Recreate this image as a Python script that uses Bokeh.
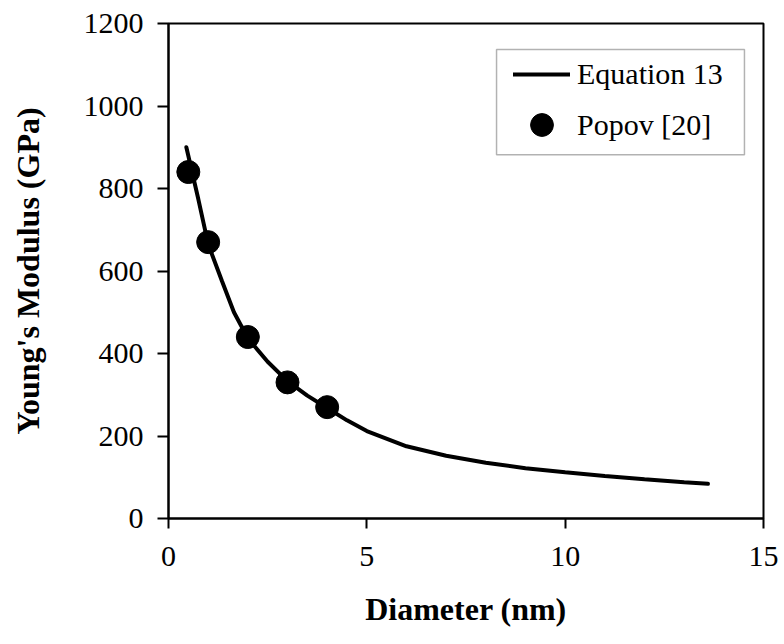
from bokeh.plotting import figure
from bokeh.models import Range1d, FixedTicker, Legend, LegendItem, BoxAnnotation
from bokeh.embed import file_html
from bokeh.resources import INLINE

# Equation 13 curve
eq_d = [0.45, 0.75, 1.0, 1.35, 1.65, 2.0, 2.5, 3.0, 3.5, 4.0, 4.5, 5.0, 6.0, 7.0,
        8.0, 9.0, 10.0, 11.0, 12.0, 13.0, 13.6]
eq_E = [900, 775, 665, 575, 500, 437, 380, 333, 298, 268, 238, 212, 175, 152,
        135, 122, 112, 103, 95, 88, 84]

# Popov [20] points
popov_d = [0.5, 1.0, 2.0, 3.0, 4.0]
popov_E = [840, 670, 440, 330, 270]

x_ticks = [0, 5, 10, 15]
y_ticks = [0, 200, 400, 600, 800, 1000, 1200]

FONT = "Liberation Serif"

p = figure(width=784, height=644, output_backend="svg", toolbar_location=None,
           x_range=Range1d(0, 15), y_range=Range1d(0, 1200),
           min_border_left=168, min_border_right=21, min_border_top=23,
           min_border_bottom=126)
p.background_fill_color = "white"
p.border_fill_color = "white"
p.grid.visible = False
p.outline_line_color = "black"
p.outline_line_width = 2

p.xaxis.ticker = FixedTicker(ticks=x_ticks)
p.yaxis.ticker = FixedTicker(ticks=y_ticks)
for ax in (p.xaxis, p.yaxis):
    ax.axis_line_color = "black"
    ax.axis_line_width = 2
    ax.major_tick_line_color = "black"
    ax.major_tick_line_width = 2
    ax.major_tick_in = 0
    ax.minor_tick_line_color = None
    ax.major_label_text_font = FONT
    ax.major_label_text_font_size = "30px"
    ax.major_label_text_color = "black"
    ax.axis_label_text_font = FONT
    ax.axis_label_text_font_size = "32px"
    ax.axis_label_text_font_style = "bold"
    ax.axis_label_text_color = "black"

p.xaxis.axis_label = "Diameter (nm)"
p.yaxis.axis_label = "Young's Modulus (GPa)"
p.xaxis.major_tick_out = 10
p.yaxis.major_tick_out = 11
p.xaxis.major_label_standoff = 18
p.yaxis.major_label_standoff = 14
p.xaxis.axis_label_standoff = 22
p.yaxis.axis_label_standoff = 35

line = p.line(eq_d, eq_E, line_color="black", line_width=4, line_cap="round")
pts = p.scatter(popov_d, popov_E, size=23, fill_color="black", line_color="black")

# legend frame
p.add_layout(BoxAnnotation(left=8.27, right=14.52, bottom=882, top=1137,
                           fill_color="white", fill_alpha=1,
                           line_color="black", line_width=1.5, level="annotation"))

def make_legend(item, loc, gh):
    lg = Legend(items=[item], location=loc)
    lg.label_text_font = FONT
    lg.label_text_font_size = "30px"
    lg.label_text_color = "black"
    lg.border_line_color = None
    lg.background_fill_alpha = 0
    lg.padding = 0
    lg.margin = 0
    lg.spacing = 0
    lg.glyph_width = 57
    lg.glyph_height = gh
    lg.label_height = gh
    lg.label_standoff = 7
    return lg

p.add_layout(make_legend(LegendItem(label="Equation 13", renderers=[line]), (345, 427), 34))
p.add_layout(make_legend(LegendItem(label="Popov [20]", renderers=[pts]), (345, 365), 57))

open("out.html", "w").write(file_html(p, INLINE))
